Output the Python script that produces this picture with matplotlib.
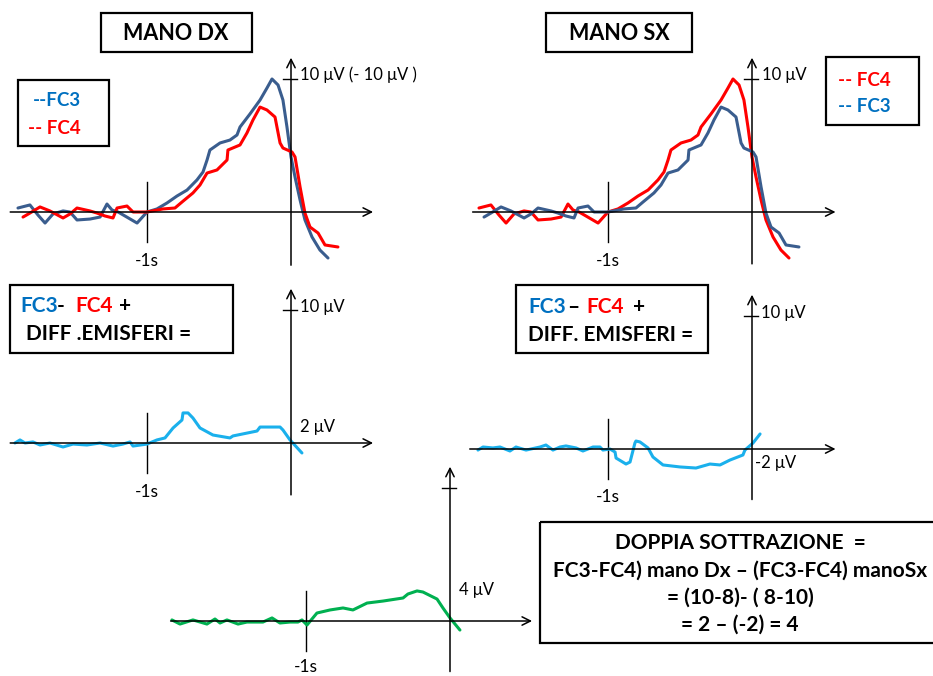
import matplotlib.pyplot as plt
from matplotlib.patches import Rectangle

plt.rcParams['font.family'] = ['Lato', 'DejaVu Sans']

W, H = 933, 676          # canvas size in pixels
PX_S, PX_UV = 144, 13.3  # pixels per second / per microvolt

# readiness potentials, right hand (time in s, amplitude in µV)
t_fc3_dx = [-1.896, -1.813, -1.757, -1.708, -1.653, -1.583, -1.535, -1.486, -1.396, -1.326,
            -1.278, -1.243, -1.201, -1.153, -1.069, -1.0, -0.931, -0.861, -0.792, -0.722,
            -0.653, -0.611, -0.583, -0.563, -0.493, -0.424, -0.375, -0.354, -0.285, -0.215,
            -0.167, -0.132, -0.090, -0.056, -0.028, 0.0, 0.028, 0.063, 0.097, 0.146, 0.201, 0.257]
v_fc3_dx = [0.30, 0.53, -0.23, -0.83, -0.15, 0.08, 0.0, -0.60, -0.53, -0.38,
            0.60, 0.15, 0.0, -0.30, -0.83, 0.0, 0.23, 0.68, 1.20, 1.65,
            2.41, 3.01, 3.91, 4.66, 5.19, 5.41, 5.79, 6.39, 7.37, 8.42,
            9.32, 10.0, 9.55, 8.42, 6.39, 4.14, 2.63, 0.90, -0.60, -1.88, -2.86, -3.46]

t_fc4_dx = [-1.861, -1.813, -1.743, -1.674, -1.583, -1.535, -1.486, -1.396, -1.347, -1.292,
            -1.236, -1.208, -1.139, -1.097, -1.0, -0.889, -0.806, -0.757, -0.681, -0.632,
            -0.583, -0.514, -0.444, -0.438, -0.354, -0.306, -0.264, -0.215, -0.167, -0.111,
            -0.076, -0.056, 0.007, 0.028, 0.063, 0.097, 0.132, 0.188, 0.236, 0.326]
v_fc4_dx = [-0.38, -0.08, 0.38, 0.08, -0.45, -0.15, 0.30, 0.08, -0.08, -0.30,
            -0.45, 0.30, 0.45, 0.0, 0.0, 0.23, 0.30, 0.75, 1.43, 2.03,
            2.93, 3.16, 3.91, 4.66, 5.04, 5.94, 6.92, 7.89, 7.67, 7.14,
            5.19, 4.81, 4.51, 4.14, 1.88, -0.08, -1.13, -1.58, -2.48, -2.63]

# left hand: the two hemispheres swap roles
t_fc4_sx, v_fc4_sx = t_fc3_dx, v_fc3_dx
t_fc3_sx, v_fc3_sx = t_fc4_dx, v_fc4_dx

# FC3 - FC4 difference, right hand
t_diff_dx = [-1.917, -1.882, -1.847, -1.792, -1.743, -1.674, -1.583, -1.514, -1.417, -1.326,
             -1.236, -1.167, -1.118, -1.097, -1.0, -0.931, -0.875, -0.819, -0.757, -0.750,
             -0.715, -0.681, -0.632, -0.542, -0.424, -0.403, -0.236, -0.215, -0.076, -0.056,
             -0.007, 0.076]
v_diff_dx = [0.0, 0.23, 0.0, 0.08, -0.15, 0.0, -0.30, -0.08, -0.15, 0.0,
             -0.23, -0.08, 0.08, -0.23, -0.08, 0.23, 0.38, 1.13, 1.73, 2.26,
             2.26, 1.88, 1.13, 0.60, 0.38, 0.53, 0.90, 1.20, 1.20, 0.98,
             0.23, -0.75]

# FC3 - FC4 difference, left hand
t_diff_sx = [-1.903, -1.868, -1.799, -1.75, -1.681, -1.639, -1.569, -1.472, -1.431, -1.382,
             -1.333, -1.292, -1.222, -1.174, -1.104, -1.056, -1.035, -0.986, -0.951, -0.944,
             -0.875, -0.847, -0.813, -0.806, -0.778, -0.722, -0.688, -0.618, -0.5, -0.389,
             -0.292, -0.222, -0.153, -0.063, -0.049, 0.007, 0.056]
v_diff_sx = [-0.08, 0.15, 0.08, 0.15, -0.15, 0.15, -0.08, 0.15, 0.30, -0.08,
             0.15, 0.23, 0.08, -0.15, 0.15, 0.15, -0.08, 0.0, -0.23, -0.68,
             -1.13, -0.98, 0.45, 0.60, 0.53, 0.08, -0.60, -1.20, -1.35, -1.43,
             -1.13, -1.20, -0.83, -0.45, -0.08, 0.45, 1.13]

# double subtraction
t_double = [-1.931, -1.875, -1.785, -1.688, -1.632, -1.597, -1.549, -1.472, -1.410, -1.299,
            -1.236, -1.181, -1.111, -1.056, -1.028, -0.993, -0.924, -0.833, -0.743, -0.674,
            -0.576, -0.465, -0.326, -0.292, -0.229, -0.188, -0.090, -0.049, 0.0, 0.069]
v_double = [0.08, -0.23, 0.08, -0.23, 0.15, -0.15, 0.08, -0.23, -0.08, -0.08,
            0.23, -0.15, -0.08, -0.08, 0.08, -0.30, 0.60, 0.83, 0.98, 0.83,
            1.35, 1.50, 1.73, 2.03, 2.26, 2.18, 1.65, 0.98, 0.23, -0.68]

DARK_BLUE = '#3A5D8E'
BLUE = '#0070C0'
RED = '#FF0000'
CYAN = '#1AB0EC'
GREEN = '#00B050'

fig = plt.figure(figsize=(W / 100, H / 100), dpi=100)

# layout layer in pixel coordinates for boxes and captions
lay = fig.add_axes([0, 0, 1, 1], facecolor='none')
lay.set_xlim(0, W)
lay.set_ylim(H, 0)
lay.axis('off')


def panel(x0, y0):
    """Full-canvas axes whose origin (0 s, 0 µV) sits at pixel (x0, y0)."""
    ax = fig.add_axes([0, 0, 1, 1], facecolor='none')
    ax.set_xlim(-x0 / PX_S, (W - x0) / PX_S)
    ax.set_ylim((y0 - H) / PX_UV, y0 / PX_UV)
    ax.axis('off')
    return ax


def arrow(ax, start, end):
    ax.annotate('', xy=end, xytext=start,
                arrowprops=dict(arrowstyle='->, head_length=0.6, head_width=0.3',
                                color='black', lw=1.1, shrinkA=0, shrinkB=0))


def draw_frame(ax, t_lo, t_hi, v_lo, v_hi, label_v=-3.7):
    arrow(ax, (t_lo, 0), (t_hi, 0))
    arrow(ax, (0, v_lo), (0, v_hi))
    ax.plot([-0.055, 0.045], [10, 10], color='black', lw=1.0)
    ax.plot([-1, -1], [-2.25, 2.25], color='black', lw=1.0)
    ax.text(-1, label_v, '-1s', ha='center', va='center', fontsize=12.5)


def box(x0, y0, x1, y1, lw=1.6):
    lay.add_patch(Rectangle((x0, y0), x1 - x0, y1 - y0, fill=False,
                            edgecolor='black', lw=lw, clip_on=False))


def btext(x, y, s, color='black', size=12, ha='left'):
    lay.text(x, y, s, color=color, fontsize=size, fontweight='bold',
             ha=ha, va='center')


TRACE = dict(lw=2.2, solid_joinstyle='round', solid_capstyle='round')
LABEL = dict(ha='left', va='center', fontsize=12)

# right hand
ax1 = panel(291, 212)
draw_frame(ax1, -1.95, 0.57, -4.0, 11.6)
ax1.plot(t_fc3_dx, v_fc3_dx, color=DARK_BLUE, **TRACE)
ax1.plot(t_fc4_dx, v_fc4_dx, color=RED, **TRACE)
ax1.text(0.06, 10.3, '10 μV (- 10 μV )', **LABEL)

# left hand
ax2 = panel(752, 212)
draw_frame(ax2, -1.94, 0.58, -3.9, 11.6)
ax2.plot(t_fc4_sx, v_fc4_sx, color=RED, **TRACE)
ax2.plot(t_fc3_sx, v_fc3_sx, color=DARK_BLUE, **TRACE)
ax2.text(0.07, 10.3, '10 μV', **LABEL)

# hemisphere difference, right hand
ax3 = panel(291, 443)
draw_frame(ax3, -1.95, 0.57, -3.9, 11.6)
ax3.plot(t_diff_dx, v_diff_dx, color=CYAN, **TRACE)
ax3.text(0.06, 10.2, '10 μV', **LABEL)
ax3.text(0.06, 1.2, '2 μV', **LABEL)

# hemisphere difference, left hand
ax4 = panel(752, 449)
draw_frame(ax4, -1.96, 0.58, -3.8, 11.6, label_v=-3.6)
ax4.plot(t_diff_sx, v_diff_sx, color=CYAN, **TRACE)
ax4.text(0.065, 10.2, '10 μV', **LABEL)
ax4.text(0.02, -1.05, '-2 μV', **LABEL)

# double subtraction
ax5 = panel(450, 621)
draw_frame(ax5, -1.94, 0.57, -3.8, 11.6, label_v=-3.45)
ax5.plot(t_double, v_double, color=GREEN, **TRACE)
ax5.text(0.065, 2.33, '4 μV', **LABEL)

# titles
box(101, 13, 252, 52)
btext(176, 33, 'MANO DX', size=15.5, ha='center')
box(546, 13, 692, 52)
btext(619, 33, 'MANO SX', size=15.5, ha='center')

# channel keys
box(18, 80, 109, 146)
btext(33, 101, '--FC3', BLUE, size=13.5)
btext(28, 129, '-- FC4', RED, size=13.5)
box(826, 57, 919, 125)
btext(838, 80, '-- FC4', RED, size=13.5)
btext(838, 106, '-- FC3', BLUE, size=13.5)

# difference captions
box(10, 285, 233, 353)
btext(20, 306, 'FC3', BLUE, size=15)
btext(57, 306, '-', size=15)
btext(75, 306, 'FC4', RED, size=15)
btext(119, 306, '+', size=15)
btext(26, 334, 'DIFF .EMISFERI =', size=15)

box(516, 285, 708, 353)
btext(528, 307, 'FC3', BLUE, size=15)
btext(567, 307, '–', size=15)
btext(586, 307, 'FC4', RED, size=15)
btext(633, 307, '+', size=15)
btext(528, 335, 'DIFF. EMISFERI =', size=15)

# double subtraction summary (runs off the right edge)
box(540, 522, 960, 643)
for y, line in zip([543, 571, 598, 625],
                   ['DOPPIA SOTTRAZIONE  =',
                    'FC3-FC4) mano Dx – (FC3-FC4) manoSx',
                    '= (10-8)- ( 8-10)',
                    '= 2 – (-2) = 4']):
    btext(740, y, line, size=15, ha='center')

fig.savefig('out.png', dpi=100)
